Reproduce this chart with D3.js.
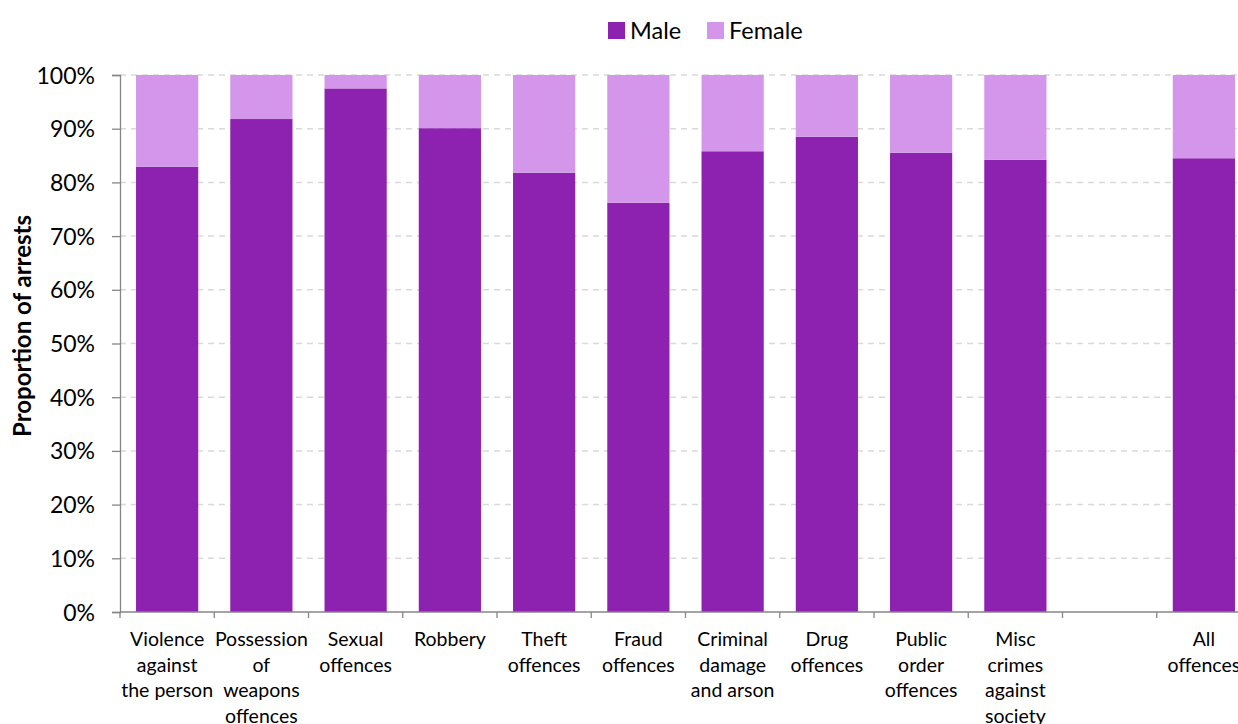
<!DOCTYPE html>
<html><head><meta charset="utf-8">
<script src="https://cdn.jsdelivr.net/npm/d3@7"></script>
<style>body{margin:0;background:#fff;overflow:hidden}svg{display:block}text{font-family:Lato, "Open Sans", sans-serif;fill:#000}</style>
</head><body>
<script>
const categories = [
  ["Violence","against","the person"],
  ["Possession","of","weapons","offences"],
  ["Sexual","offences"],
  ["Robbery"],
  ["Theft","offences"],
  ["Fraud","offences"],
  ["Criminal","damage","and arson"],
  ["Drug","offences"],
  ["Public","order","offences"],
  ["Misc","crimes","against","society"],
  [],
  ["All","offences"]
];
const categoryKeys = ["violence","weapons","sexual","robbery","theft","fraud","damage","drug","public","misc","blank","all"];
const maleValues   = [82.9, 91.8, 97.5, 90.1, 81.8, 76.2, 85.8, 88.5, 85.5, 84.2, null, 84.5];
const femaleValues = maleValues.map(v => v == null ? null : 100 - v);
const yTicks = [0,10,20,30,40,50,60,70,80,90,100];
const seriesNames = ["Male","Female"];
const colors = ["#8E22B0","#D396EA"];

const W = 1238, H = 724;
const svg = d3.select("body").append("svg").attr("width", W).attr("height", H);
const mLeft = 120, mRight = 1251, mTop = 75, mBottom = 612;

const x = d3.scaleBand().domain(categoryKeys).range([mLeft, mRight]).paddingInner(0.34).paddingOuter(0.17);
const y = d3.scaleLinear().domain([0,100]).range([mBottom, mTop]);

// gridlines
svg.append("g").selectAll("line").data(yTicks.filter(t => t > 0)).join("line")
  .attr("x1", mLeft).attr("x2", W).attr("y1", d => y(d)).attr("y2", d => y(d))
  .attr("stroke", "#D9D9D9").attr("stroke-width", 1.5).attr("stroke-dasharray", "6,5");

// bars
const stackData = categoryKeys.map((k,i) => ({key:k, Male: maleValues[i], Female: femaleValues[i]}));
const stack = d3.stack().keys(seriesNames)(stackData.filter(d => d.Male != null));
svg.append("g").selectAll("g").data(stack).join("g").attr("fill", (d,i) => colors[i])
  .selectAll("rect").data(d => d).join("rect")
  .attr("x", d => x(d.data.key)).attr("width", x.bandwidth())
  .attr("y", d => y(d[1])).attr("height", d => y(d[0]) - y(d[1]));

// y axis
const yAxis = svg.append("g").attr("transform", `translate(${mLeft},0)`)
  .call(d3.axisLeft(y).tickValues(yTicks).tickFormat(d => d + "%").tickSize(8).tickPadding(17));
yAxis.select(".domain").attr("stroke", "#868686").attr("stroke-width", 1.3);
yAxis.selectAll(".tick line").attr("stroke", "#868686").attr("stroke-width", 1.3);
yAxis.selectAll("text").style("font-size", "23px").attr("dy", "0.35em");

// x axis
const xg = svg.append("g");
xg.append("line").attr("x1", mLeft).attr("x2", W).attr("y1", mBottom).attr("y2", mBottom)
  .attr("stroke", "#868686").attr("stroke-width", 1.3);
const step = x.step();
const boundaries = d3.range(categoryKeys.length + 1).map(i => x(categoryKeys[0]) - x.paddingOuter()*step + i*step);
xg.selectAll("line.tk").data(boundaries).join("line").attr("class","tk")
  .attr("x1", d => d).attr("x2", d => d).attr("y1", mBottom).attr("y2", mBottom + 6)
  .attr("stroke", "#868686").attr("stroke-width", 1.3);
const labels = xg.selectAll("text.cat").data(categoryKeys).join("text").attr("class","cat")
  .attr("text-anchor","middle").style("font-size","19.5px")
  .attr("transform", d => `translate(${x(d) + x.bandwidth()/2},${mBottom + 34})`);
labels.each(function(d,i){
  d3.select(this).selectAll("tspan").data(categories[i]).join("tspan")
    .attr("x", 0).attr("y", (t,j) => j*25.7).text(t => t);
});

// y label
svg.append("text").attr("transform", `translate(31,326) rotate(-90)`)
  .attr("text-anchor","middle").style("font-size","24px").style("font-weight","bold")
  .text("Proportion of arrests");

// legend
const lg = svg.append("g");
const legendX = [608, 707];
seriesNames.forEach((s,i) => {
  lg.append("rect").attr("x", legendX[i]).attr("y", 22).attr("width", 17).attr("height", 17).attr("fill", colors[i]);
  lg.append("text").attr("x", legendX[i] + 22).attr("y", 39).style("font-size","23.5px").text(s);
});
</script>
</body></html>
